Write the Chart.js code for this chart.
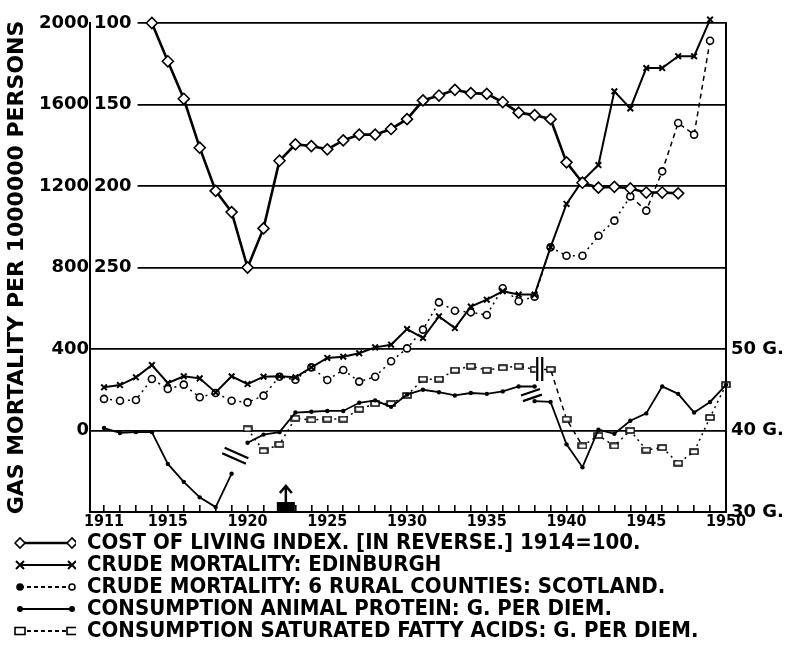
<!DOCTYPE html>
<html><head><meta charset="utf-8">
<script src="https://cdn.jsdelivr.net/npm/chart.js@4.4.1/dist/chart.umd.min.js"></script>
<style>html,body{margin:0;padding:0;background:#fff}#wrap{width:787px;height:648px}</style>
</head><body><div id="wrap"><canvas id="c" width="787" height="648"></canvas></div>
<script>
// ---------- data ----------
const costYears = [1914,1915,1916,1917,1918,1919,1920,1921,1922,1923,1924,1925,1926,1927,1928,1929,1930,1931,1932,1933,1934,1935,1936,1937,1938,1939,1940,1941,1942,1943,1944,1945,1946,1947];
const costIndex = [100,123.5,146.5,176.5,203,216,250,226,184.5,174.5,175.5,177.5,172,168.5,168.5,165,159,147.5,144.5,141,143,143.5,148.5,155,156.5,159,185.5,198,201,200.5,201.5,204,204,204.5];

const mortalityYears = [1911,1912,1913,1914,1915,1916,1917,1918,1919,1920,1921,1922,1923,1924,1925,1926,1927,1928,1929,1930,1931,1932,1933,1934,1935,1936,1937,1938,1939,1940,1941,1942,1943,1944,1945,1946,1947,1948,1949];
const edinburghMortality = [212,223,261,321,233,266,256,187,266,228,264,266,261,310,356,362,379,408,421,498,454,560,503,608,642,683,667,667,900,1112,1226,1303,1665,1581,1779,1779,1837,1837,2017];
const ruralMortality = [155,146,150,253,204,225,163,184,146,138,171,264,249,310,248,297,240,264,340,403,495,629,588,580,567,698,634,657,899,858,858,956,1030,1149,1079,1272,1509,1452,1913];

const proteinYears = [1911,1912,1913,1914,1915,1916,1917,1918,1919,1919.5,1920,1921,1922,1923,1924,1925,1926,1927,1928,1929,1930,1931,1932,1933,1934,1935,1936,1937,1938,1938,1938,1939,1940,1941,1942,1943,1944,1945,1946,1947,1948,1949,1950];
const proteinGrams = [40.3,39.7,39.8,39.8,35.9,33.7,31.8,30.6,34.7,null,38.5,39.5,39.8,42.2,42.3,42.4,42.4,43.4,43.7,42.9,44.4,45.0,44.7,44.3,44.6,44.5,44.8,45.4,45.4,null,43.6,43.5,38.3,35.5,40.1,39.6,41.2,42.1,45.4,44.5,42.2,43.5,45.6];

const fattyYears = [1920,1921,1922,1923,1924,1925,1926,1927,1928,1929,1930,1931,1932,1933,1934,1935,1936,1937,1938,1939,1940,1941,1942,1943,1944,1945,1946,1947,1948,1949,1950];
const fattyGrams = [40.2,37.5,38.3,41.5,41.3,41.4,41.4,42.6,43.3,43.3,44.3,46.3,46.3,47.4,47.9,47.4,47.7,47.9,47.5,47.5,41.4,38.1,39.4,38.1,40.0,37.6,37.9,36.0,37.4,41.6,45.6];

const yearLabels = [1911,1915,1920,1925,1930,1935,1940,1945,1950];
const mortalityTicks = [0,400,800,1200,1600,2000];
const costIndexTicks = [100,150,200,250];
const gramTicks = [30,40,50];
const seriesLabels = [
  'COST OF LIVING INDEX. [IN REVERSE.] 1914=100.',
  'CRUDE MORTALITY: EDINBURGH',
  'CRUDE MORTALITY: 6 RURAL COUNTIES: SCOTLAND.',
  'CONSUMPTION ANIMAL PROTEIN: G. PER DIEM.',
  'CONSUMPTION SATURATED FATTY ACIDS: G. PER DIEM.'
];
// annotation marks (data units)
const breakMarks = [
  {axis:'yG', x:1919.23, y:36.9, kind:'slashDown'},
  {axis:'yG', x:1937.8, y:44.35, kind:'slashUp'},
  {axis:'yG', x:1938.32, y:47.55, kind:'bars'}
];
const arrowYear = 1922.4;

// ---------- helpers ----------
const FONT = "'DejaVu Sans', sans-serif";
const CFONT = "'DejaVu Sans Condensed', 'DejaVu Sans', sans-serif";
const toXY = (xs, ys) => xs.map((x, i) => ({x, y: ys[i]}));
const allYears = [];
for (let y = 1911; y <= 1950; y++) allYears.push(y);

function rectImg(w, h) {
  const c = document.createElement('canvas'); c.width = w + 2; c.height = h + 2;
  const g = c.getContext('2d');
  g.fillStyle = '#fff'; g.strokeStyle = '#000'; g.lineWidth = 1.5;
  g.fillRect(1, 1, w, h); g.strokeRect(1, 1, w, h);
  return c;
}
const fattyPt = rectImg(8, 5);

function sample(kind) {
  const c = document.createElement('canvas'); c.width = 76; c.height = 16;
  const g = c.getContext('2d'); g.strokeStyle = '#000'; g.fillStyle = '#000';
  const x0 = 20, x1 = 72, y = 8;
  const dashed = (kind === 'rural' || kind === 'fatty');
  g.lineWidth = kind === 'cost' ? 2.5 : 2;
  g.setLineDash(dashed ? [4, 3] : []);
  g.beginPath(); g.moveTo(x0, y); g.lineTo(x1, y); g.stroke(); g.setLineDash([]);
  [x0, x1].forEach((x, i) => {
    g.lineWidth = 1.6;
    if (kind === 'cost') {
      g.beginPath(); g.moveTo(x - 5, y); g.lineTo(x, y - 5); g.lineTo(x + 5, y); g.lineTo(x, y + 5); g.closePath();
      g.fillStyle = '#fff'; g.fill(); g.stroke();
    } else if (kind === 'edin') {
      g.lineWidth = 2;
      g.beginPath(); g.moveTo(x - 4, y - 4); g.lineTo(x + 4, y + 4); g.moveTo(x - 4, y + 4); g.lineTo(x + 4, y - 4); g.stroke();
    } else if (kind === 'rural') {
      g.beginPath(); g.arc(x, y, 3, 0, Math.PI * 2); g.fillStyle = i === 0 ? '#000' : '#fff'; g.fill(); g.stroke();
    } else if (kind === 'protein') {
      g.beginPath(); g.arc(x, y, 3, 0, Math.PI * 2); g.fillStyle = '#000'; g.fill();
    } else {
      g.fillStyle = '#fff'; g.fillRect(x - 5, y - 3.5, 10, 7); g.strokeRect(x - 5, y - 3.5, 10, 7);
    }
  });
  return c;
}
const samples = ['cost', 'edin', 'rural', 'protein', 'fatty'].map(sample);

const annotationPlugin = {
  id: 'annot',
  afterDatasetsDraw(chart) {
    const ctx = chart.ctx, xs = chart.scales.x;
    ctx.save(); ctx.strokeStyle = '#000'; ctx.fillStyle = '#000'; ctx.lineWidth = 2.2;
    breakMarks.forEach(m => {
      const px = xs.getPixelForValue(m.x), py = chart.scales[m.axis].getPixelForValue(m.y);
      if (m.kind === 'bars') {
        ctx.fillStyle = '#fff'; ctx.fillRect(px - 4, py - 12, 8, 24);
        ctx.beginPath(); ctx.moveTo(px - 2.5, py - 12); ctx.lineTo(px - 2.5, py + 12);
        ctx.moveTo(px + 2.5, py - 12); ctx.lineTo(px + 2.5, py + 12); ctx.stroke();
      } else {
        const a = m.kind === 'slashDown' ? 0.42 : -0.33, L = m.kind === 'slashDown' ? 13 : 10;
        const dx = Math.cos(a) * L, dy = Math.sin(a) * L, nx = -Math.sin(a) * 3, ny = Math.cos(a) * 3;
        ctx.beginPath();
        ctx.moveTo(px - dx - nx, py - dy - ny); ctx.lineTo(px + dx - nx, py + dy - ny);
        ctx.moveTo(px - dx + nx, py - dy + ny); ctx.lineTo(px + dx + nx, py + dy + ny);
        ctx.stroke();
      }
    });
    const ax = xs.getPixelForValue(arrowYear), by = chart.chartArea.bottom;
    ctx.fillStyle = '#000';
    ctx.fillRect(ax - 9, by - 10, 18, 10);
    ctx.lineWidth = 2.5;
    ctx.beginPath(); ctx.moveTo(ax, by - 10); ctx.lineTo(ax, by - 26);
    ctx.moveTo(ax - 6, by - 19); ctx.lineTo(ax, by - 26); ctx.lineTo(ax + 6, by - 19); ctx.stroke();
    ctx.restore();
  }
};

const tickFont = {family: FONT, size: 18, weight: 'bold'};

new Chart(document.getElementById('c'), {
  type: 'line',
  plugins: [annotationPlugin],
  data: {
    datasets: [
      {label: seriesLabels[0], data: toXY(costYears, costIndex), yAxisID: 'yIdx',
        borderColor: '#000', borderWidth: 2.6, pointStyle: 'rectRot', pointRadius: 5.5,
        pointBackgroundColor: '#fff', pointBorderColor: '#000', pointBorderWidth: 1.6, clip: false, tension: 0},
      {label: seriesLabels[1], data: toXY(mortalityYears, edinburghMortality), yAxisID: 'y',
        borderColor: '#000', borderWidth: 2, pointStyle: 'crossRot', pointRadius: 4,
        pointBorderColor: '#000', pointBorderWidth: 2, clip: false},
      {label: seriesLabels[2], data: toXY(mortalityYears, ruralMortality), yAxisID: 'y',
        borderColor: '#000', borderWidth: 1.5,
        segment: {borderDash: c => c.p0.parsed.x >= 1944 ? [5, 4] : [2, 4]},
        pointStyle: 'circle', pointRadius: 3.5, pointBackgroundColor: '#fff',
        pointBorderColor: '#000', pointBorderWidth: 1.6, clip: false},
      {label: seriesLabels[3], data: toXY(proteinYears, proteinGrams), yAxisID: 'yG',
        borderColor: '#000', borderWidth: 1.8, spanGaps: false, pointStyle: 'circle', pointRadius: 2.2,
        pointBackgroundColor: '#000', pointBorderColor: '#000', pointBorderWidth: 0, clip: false},
      {label: seriesLabels[4], data: toXY(fattyYears, fattyGrams), yAxisID: 'yG',
        borderColor: '#000', borderWidth: 1.5,
        segment: {borderDash: c => (c.p0.parsed.x >= 1938 && c.p0.parsed.x < 1941) ? [5, 4] : [2, 4]},
        pointStyle: fattyPt, clip: false}
    ]
  },
  options: {
    responsive: false, animation: false, devicePixelRatio: 1,
    layout: {padding: {top: 23, bottom: -4, left: 0, right: 0}},
    plugins: {
      tooltip: {enabled: false},
      legend: {
        position: 'bottom', align: 'start',
        labels: {
          usePointStyle: true, pointStyleWidth: 76, padding: 0, color: '#000',
          font: {family: CFONT, size: 22, weight: 'bold'},
          generateLabels: () => seriesLabels.map((t, i) => ({text: t, pointStyle: samples[i], fillStyle: '#000', strokeStyle: '#000', lineWidth: 0, hidden: false, datasetIndex: i}))
        },
        onClick: () => {}
      }
    },
    scales: {
      x: {
        type: 'linear', min: 1910.12, max: 1950,
        afterBuildTicks: s => { s.ticks = allYears.map(v => ({value: v})); },
        afterFit: s => { s.height = 20; },
        ticks: {autoSkip: false, maxRotation: 0, padding: 7, color: '#000',
          font: {family: CFONT, size: 16, weight: 'bold'},
          callback: v => yearLabels.includes(v) ? String(v) : ''},
        grid: {drawOnChartArea: false, drawTicks: true, tickLength: -7, color: '#000', lineWidth: 1.6},
        border: {display: true, color: '#000', width: 2}
      },
      y: {
        type: 'linear', position: 'left', weight: 1, min: -400, max: 2000,
        afterBuildTicks: s => { s.ticks = mortalityTicks.map(v => ({value: v})); },
        afterFit: s => { s.width = 90; },
        ticks: {padding: 1, color: '#000', font: tickFont, callback: v => String(v)},
        title: {display: true, text: 'GAS MORTALITY PER 1000000 PERSONS', color: '#000',
          font: {family: FONT, size: 22, weight: 'bold'}, padding: {top: 4, bottom: 0}},
        grid: {drawTicks: false, color: '#000', lineWidth: 1.8},
        border: {display: true, color: '#000', width: 2}
      },
      yIdx: {
        type: 'linear', position: 'left', weight: 0, min: 100, max: 400, reverse: true,
        afterBuildTicks: s => { s.ticks = costIndexTicks.map(v => ({value: v})); },
        afterFit: s => { s.width = 0; },
        ticks: {mirror: true, padding: 4, color: '#000', font: tickFont, callback: v => String(v),
          showLabelBackdrop: true, backdropColor: '#fff', backdropPadding: {left: 3, right: 6, top: 0, bottom: 0}},
        grid: {display: false, drawTicks: false},
        border: {display: false}
      },
      yG: {
        type: 'linear', position: 'right', min: 30, max: 90,
        afterBuildTicks: s => { s.ticks = gramTicks.map(v => ({value: v})); },
        afterFit: s => { s.width = 61; },
        ticks: {padding: 5, color: '#000', font: tickFont, callback: v => v + ' G.'},
        grid: {display: false, drawTicks: false},
        border: {display: true, color: '#000', width: 2}
      }
    }
  }
});
</script></body></html>
